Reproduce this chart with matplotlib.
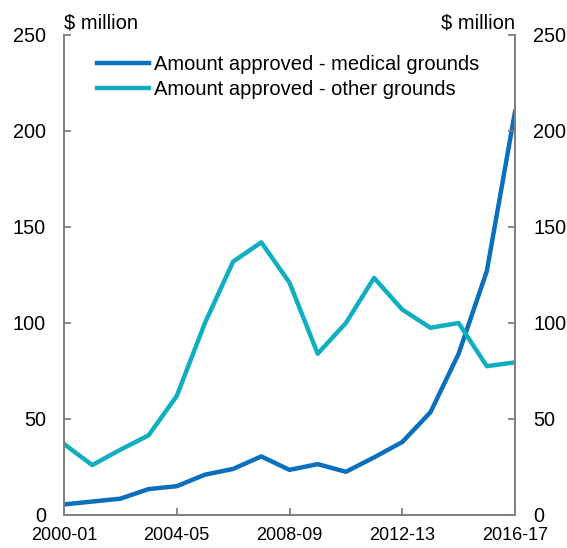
import matplotlib
matplotlib.use("Agg")
import matplotlib.pyplot as plt

years = ["2000-01", "2001-02", "2002-03", "2003-04", "2004-05", "2005-06",
         "2006-07", "2007-08", "2008-09", "2009-10", "2010-11", "2011-12",
         "2012-13", "2013-14", "2014-15", "2015-16", "2016-17"]
medical = [5.5, 7, 8.5, 13.5, 15, 21, 24, 30.5, 23.5, 26.5, 22.5, 30, 38, 53.5, 84, 127, 210]
other = [37, 26, 34, 41.5, 62, 100, 132, 142, 121, 84, 100, 123.5, 107, 97.5, 100, 77.5, 79.5]
xtick_labels = ["2000-01", "2004-05", "2008-09", "2012-13", "2016-17"]
yticks = [0, 50, 100, 150, 200, 250]

c_med = "#0A6FBD"
c_oth = "#10AFC0"
gray = "#808080"

plt.rcParams['font.family'] = ['Liberation Sans', 'DejaVu Sans']

fig = plt.figure(figsize=(5.67, 5.48), dpi=100)
ax = fig.add_axes([64/567, (548-515)/548, (515-64)/567, (515-35)/548])
x = list(range(len(years)))
ax.plot(x, medical, color=c_med, lw=3.2, label="Amount approved - medical grounds")
ax.plot(x, other, color=c_oth, lw=3.2, label="Amount approved - other grounds")

ax.set_xlim(0, len(years)-1)
ax.set_ylim(0, 250)
ax.set_yticks(yticks)
ax.set_xticks([years.index(l) for l in xtick_labels])
ax.set_xticklabels(xtick_labels)

ax2 = ax.twinx()
ax2.set_ylim(0, 250)
ax2.set_yticks(yticks)

for a in (ax, ax2):
    for s in a.spines.values():
        s.set_color(gray)
        s.set_linewidth(1.3)
    a.spines['top'].set_visible(False)
ax.tick_params(axis='y', direction='in', length=5, color=gray, width=1.3, labelsize=14.3, pad=13)
ax.tick_params(axis='x', direction='in', length=5, color=gray, width=1.3, labelsize=13, pad=8.8)
ax2.tick_params(axis='y', direction='in', length=5, color=gray, width=1.3, labelsize=14.3, pad=13)

fig.text(64/567, 1-23/548, "$ million", ha='left', va='center', fontsize=14.5)
fig.text(515/567, 1-23/548, "$ million", ha='right', va='center', fontsize=14.5)

leg = ax.legend(loc='upper left', bbox_to_anchor=(0.055, 0.975), frameon=False, fontsize=14.5,
                handlelength=2.6, handletextpad=0.25, labelspacing=0.3, borderaxespad=0)

fig.savefig("out.png", dpi=100)
